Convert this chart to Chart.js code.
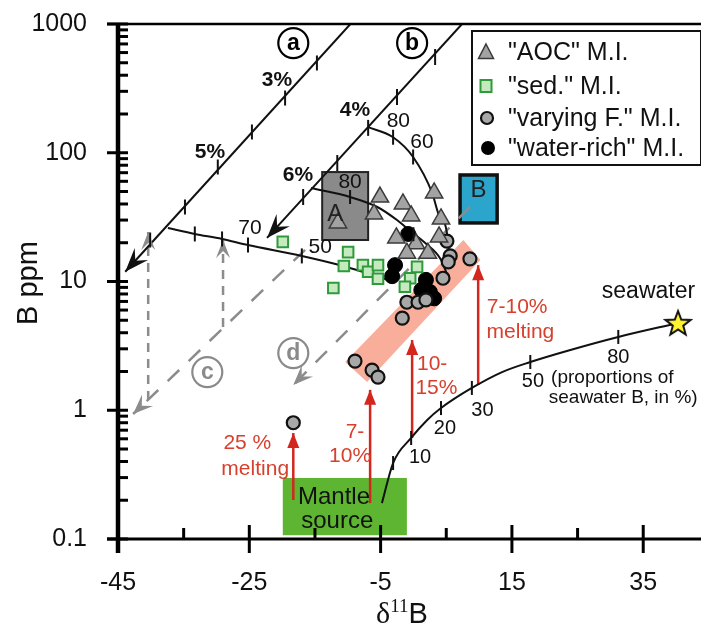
<!DOCTYPE html>
<html><head><meta charset="utf-8">
<script src="https://cdn.jsdelivr.net/npm/chart.js@4.4.1/dist/chart.umd.min.js"></script>
<style>html,body{margin:0;padding:0;background:#fff;overflow:hidden}#wrap{width:701px;height:627px;position:relative}</style>
</head><body><div id="wrap"><canvas id="c" width="701" height="627"></canvas></div>
<script>
// ---------- data ----------
const xTickValues = [-45, -25, -5, 15, 35];
const xMinorTickValues = [-35, -15, 5, 25];
const yTickValues = [0.1, 1, 10, 100, 1000];

const aocMI = [
  {x:-11.5,y:28.5},{x:-5.1,y:45.3},{x:-6.0,y:33.4},{x:-1.6,y:40.0},{x:-0.35,y:32.3},
  {x:3.15,y:48.7},{x:4.2,y:30.6},{x:-2.6,y:21.8},{x:0.4,y:19.6},{x:-1.0,y:16.6},
  {x:2.2,y:16.6},{x:3.9,y:22.2}
];
const sedMI = [
  {x:-19.9,y:20.3},{x:-9.95,y:16.9},{x:-10.6,y:13.2},{x:-12.2,y:8.9},{x:-7.7,y:13.4},
  {x:-6.9,y:11.9},{x:-5.4,y:13.4},{x:-5.4,y:10.5},{x:0.55,y:13.0},{x:-0.5,y:10.6},{x:-1.3,y:9.1}
];
const varyingF = [
  {x:5.1,y:20.6},{x:5.6,y:15.8},{x:5.3,y:14.2},{x:8.6,y:15.0},{x:4.5,y:10.6},
  {x:-1.0,y:6.9},{x:0.7,y:6.9},{x:1.9,y:7.2},{x:-1.7,y:5.2},
  {x:-8.9,y:2.41},{x:-6.3,y:2.05},{x:-5.4,y:1.81},{x:-18.3,y:0.80}
];
const waterRich = [
  {x:-0.8,y:23.4},{x:-2.8,y:13.4},{x:-3.25,y:11.0},{x:1.9,y:10.3},{x:1.2,y:8.6},{x:2.5,y:8.3},{x:3.15,y:7.4}
];
const seawater = [{x:40.3,y:4.76}];

const lineA = [{x:-9.6,y:1000},{x:-43.9,y:11.9}];
const lineATicks = [{x:-14.7,y:498},{x:-19.55,y:266},{x:-24.6,y:145},{x:-29.8,y:77.5},{x:-34.8,y:37.9},{x:-40.1,y:21.0}];
const lineB = [{x:7.4,y:1000},{x:-22.3,y:21.8}];
const lineBTicks = [{x:3.3,y:554},{x:-2.5,y:271},{x:-6.9,y:156},{x:-11.6,y:83.2},{x:-16.8,y:45.3}];
const curve4pct = [{x:-6.9,y:158},{x:-3.1,y:132},{x:-0.05,y:92.7},{x:2.85,y:48.7},{x:3.76,y:34.0},{x:5.1,y:23.8},{x:5.6,y:13.0}];
const curve4Ticks = [{x:-3.1,y:132},{x:-0.05,y:92.7}];
const curve6pct = [{x:-15.6,y:53.2},{x:-9.65,y:45.3},{x:-5.5,y:37.9},{x:-2.5,y:30.0},{x:-0.5,y:24.7},{x:1.8,y:19.9},{x:4.1,y:15.0},{x:5.3,y:10.8}];
const curve6Ticks = [{x:-9.65,y:45.3},{x:0.0,y:23.3}];
const curveFromA = [{x:-37.4,y:26.0},{x:-33.3,y:23.4},{x:-29.15,y:21.4},{x:-25.2,y:19.2},{x:-17.0,y:15.8},{x:-10.7,y:13.2},{x:-6.6,y:11.4},{x:-2.8,y:9.9}];
const curveFromATicks = [{x:-33.3,y:23.4},{x:-29.15,y:21.4},{x:-25.2,y:19.2},{x:-17.0,y:15.8}];
const mixingCurve = [{x:-4.8,y:0.190},{x:-3.1,y:0.389},{x:-0.35,y:0.609},{x:2.1,y:0.84},{x:4.2,y:1.04},{x:8.9,y:1.49},{x:13.5,y:1.98},{x:17.8,y:2.37},{x:23.9,y:2.94},{x:31.2,y:3.71},{x:40.3,y:4.76}];
const mixingTicks = [{x:-3.1,y:0.389},{x:-0.35,y:0.609},{x:4.2,y:1.04},{x:8.9,y:1.49},{x:17.8,y:2.37},{x:31.2,y:3.71}];

const dashC = [{x:-16.5,y:17.6},{x:-42.7,y:0.935}];
const dashD = [{x:8.6,y:37.9},{x:-18.3,y:1.57}];
const dashV1 = [{x:-40.4,y:1.20},{x:-40.4,y:24.2}];
const dashV2 = [{x:-29.0,y:4.43},{x:-29.0,y:21.0}];
const melt25 = [{x:-18.3,y:0.201},{x:-18.3,y:0.665}];
const melt7a = [{x:-6.6,y:0.190},{x:-6.6,y:1.44}];
const melt10 = [{x:-0.2,y:0.609},{x:-0.2,y:3.51}];
const melt7b = [{x:9.86,y:1.57},{x:9.86,y:13.4}];

const boxA = [{x:-13.9,y:70.8},{x:-6.9,y:21.0}];
const boxB = [{x:7.1,y:67.2},{x:12.75,y:28.5}];
const mantleBox = [{x:-19.9,y:0.298},{x:-1.0,y:0.107}];
const meltBand = [{x:-10.4,y:2.37},{x:-7.05,y:1.66},{x:10.2,y:14.7},{x:7.6,y:21.0}];

const seriesLabels = ['"AOC" M.I.', '"sed." M.I.', '"varying F." M.I.', '"water-rich" M.I.'];

const textLabels = [
  {t:'3%',x:-20.8,y:367,k:'pct'},{t:'5%',x:-31.0,y:101,k:'pct'},{t:'4%',x:-8.9,y:215,k:'pct'},{t:'6%',x:-17.6,y:67.2,k:'pct'},
  {t:'80',x:-2.3,y:176,k:'num'},{t:'60',x:1.3,y:121,k:'num'},{t:'80',x:-9.65,y:59.3,k:'num'},{t:'70',x:-24.9,y:26.0,k:'num'},{t:'50',x:-14.2,y:18.5,k:'num'},
  {t:'A',x:-11.9,y:33.4,k:'box'},{t:'B',x:9.9,y:51.4,k:'box'},
  {t:'25 %',x:-25.3,y:0.557,k:'red'},{t:'melting',x:-24.1,y:0.350,k:'red'},
  {t:'7-',x:-8.9,y:0.678,k:'red'},{t:'10%',x:-9.65,y:0.441,k:'red'},
  {t:'10-',x:2.85,y:2.29,k:'red'},{t:'15%',x:3.5,y:1.49,k:'red'},
  {t:'7-10%',x:15.8,y:6.34,k:'red'},{t:'melting',x:16.3,y:4.05,k:'red'},
  {t:'Mantle',x:-12.1,y:0.212,k:'mantle'},{t:'source',x:-11.6,y:0.138,k:'mantle'},
  {t:'10',x:1.0,y:0.426,k:'mix'},{t:'20',x:4.8,y:0.728,k:'mix'},{t:'30',x:10.5,y:1.0,k:'mix'},{t:'50',x:18.2,y:1.66,k:'mix'},{t:'80',x:31.2,y:2.55,k:'mix'},
  {t:'(proportions of',x:30.3,y:1.78,k:'note'},{t:'seawater B, in %)',x:31.95,y:1.245,k:'note'},
  {t:'seawater',x:35.8,y:8.28,k:'sea'}
];
const circleLabels = [
  {t:'a',x:-18.3,y:711,c:'#000'},{t:'b',x:-0.2,y:711,c:'#000'},
  {t:'c',x:-31.4,y:1.98,c:'#8a8a8a'},{t:'d',x:-18.3,y:2.78,c:'#8a8a8a'}
];

// ---------- styles ----------
const SANS = '"Liberation Sans", Arial, sans-serif';
const SERIF = '"Liberation Serif", "Times New Roman", serif';
const RED = '#d3261c';
const REDTXT = '#d6402c';
const GRAYD = '#8c8c8c';
const labelStyles = {
  pct:{font:'bold 21px '+SANS,color:'#111'},
  num:{font:'21px '+SANS,color:'#111'},
  box:{font:'24px '+SANS,color:'#222'},
  red:{font:'21px '+SANS,color:REDTXT},
  mantle:{font:'24px '+SANS,color:'#111'},
  mix:{font:'20px '+SANS,color:'#111'},
  note:{font:'19px '+SANS,color:'#111'},
  sea:{font:'23px '+SANS,color:'#111'}
};

// star image for seawater point
const starImg = document.createElement('canvas');
starImg.width = 30; starImg.height = 30;
(function(){
  const c = starImg.getContext('2d');
  c.beginPath();
  for (let i = 0; i < 10; i++) {
    const r = i % 2 === 0 ? 13 : 5.5;
    const a = -Math.PI/2 + i*Math.PI/5;
    const px = 15 + r*Math.cos(a), py = 16 + r*Math.sin(a);
    if (i === 0) c.moveTo(px, py); else c.lineTo(px, py);
  }
  c.closePath();
  c.fillStyle = '#fff22e'; c.fill();
  c.lineWidth = 2; c.strokeStyle = '#111'; c.stroke();
})();

function lineDs(data, opts) {
  return Object.assign({data, showLine:true, pointRadius:0, borderColor:'#111', borderWidth:2, fill:false, tension:0}, opts||{});
}

const datasets = [
  {label:seriesLabels[0], data:aocMI, pointStyle:'triangle', pointRadius:10, backgroundColor:'#a3a3a3', borderColor:'#3a3a3a', borderWidth:1.5},
  {label:seriesLabels[1], data:sedMI, pointStyle:'rect', pointRadius:7.5, backgroundColor:'#c6eac0', borderColor:'#2e9a3a', borderWidth:2},
  {label:seriesLabels[2], data:varyingF, pointStyle:'circle', pointRadius:6.5, backgroundColor:'#a8a8a8', borderColor:'#111', borderWidth:2.2},
  {label:seriesLabels[3], data:waterRich, pointStyle:'circle', pointRadius:7.5, backgroundColor:'#000', borderColor:'#000', borderWidth:1},
  {label:'seawater', data:seawater, pointStyle:starImg, pointRadius:13},
  lineDs(lineA, {arrow:{len:24,half:9,notch:15}}),
  lineDs(lineB, {arrow:{len:24,half:9,notch:15}}),
  lineDs(curve4pct, {cubicInterpolationMode:'monotone'}),
  lineDs(curve6pct, {cubicInterpolationMode:'monotone'}),
  lineDs(curveFromA, {cubicInterpolationMode:'monotone'}),
  lineDs(mixingCurve, {cubicInterpolationMode:'monotone'}),
  lineDs(dashC, {borderColor:GRAYD, borderWidth:2.5, borderDash:[16,13], arrow:{len:20,half:8,notch:12}}),
  lineDs(dashD, {borderColor:GRAYD, borderWidth:2.5, borderDash:[16,13], arrow:{len:20,half:8,notch:12}}),
  lineDs(dashV1, {borderColor:GRAYD, borderWidth:2.5, borderDash:[9,7], arrow:{len:18,half:7,notch:11}}),
  lineDs(dashV2, {borderColor:GRAYD, borderWidth:2.5, borderDash:[9,7], arrow:{len:18,half:7,notch:11}}),
  lineDs(melt25, {borderColor:RED, borderWidth:2.5, arrow:{len:15,half:6,notch:15}}),
  lineDs(melt7a, {borderColor:RED, borderWidth:2.5, arrow:{len:15,half:6,notch:15}}),
  lineDs(melt10, {borderColor:RED, borderWidth:2.5, arrow:{len:15,half:6,notch:15}}),
  lineDs(melt7b, {borderColor:RED, borderWidth:2.5, arrow:{len:15,half:6,notch:15}})
];

function px(chart, p) {
  return {x: chart.scales.x.getPixelForValue(p.x), y: chart.scales.y.getPixelForValue(p.y)};
}
function arrowHead(ctx, from, to, a, color) {
  const ang = Math.atan2(to.y-from.y, to.x-from.x);
  ctx.save(); ctx.translate(to.x, to.y); ctx.rotate(ang);
  ctx.beginPath(); ctx.moveTo(0,0); ctx.lineTo(-a.len,-a.half); ctx.lineTo(-a.notch,0); ctx.lineTo(-a.len,a.half); ctx.closePath();
  ctx.fillStyle = color; ctx.fill(); ctx.restore();
}

const backPlugin = {
  id:'back',
  beforeDatasetsDraw(chart) {
    const ctx = chart.ctx;
    ctx.save();
    ctx.beginPath();
    meltBand.forEach((p,i)=>{const q=px(chart,p); if(i===0) ctx.moveTo(q.x,q.y); else ctx.lineTo(q.x,q.y);});
    ctx.closePath(); ctx.fillStyle='#f8ae9a'; ctx.fill();
    let a=px(chart,mantleBox[0]), b=px(chart,mantleBox[1]);
    ctx.fillStyle='#5db532'; ctx.fillRect(a.x,a.y,b.x-a.x,b.y-a.y);
    a=px(chart,boxA[0]); b=px(chart,boxA[1]);
    ctx.fillStyle='#8a8a8a'; ctx.fillRect(a.x,a.y,b.x-a.x,b.y-a.y);
    ctx.lineWidth=2; ctx.strokeStyle='#222'; ctx.strokeRect(a.x,a.y,b.x-a.x,b.y-a.y);
    a=px(chart,boxB[0]); b=px(chart,boxB[1]);
    ctx.fillStyle='#2ba5cc'; ctx.fillRect(a.x,a.y,b.x-a.x,b.y-a.y);
    ctx.lineWidth=3.5; ctx.strokeStyle='#111'; ctx.strokeRect(a.x,a.y,b.x-a.x,b.y-a.y);
    ctx.restore();
  },
  afterDatasetsDraw(chart) {
    const ctx = chart.ctx;
    ctx.save();
    chart.data.datasets.forEach((ds,i)=>{
      if (!ds.arrow) return;
      const pts = chart.getDatasetMeta(i).data;
      const n = pts.length;
      arrowHead(ctx, {x:pts[n-2].x,y:pts[n-2].y}, {x:pts[n-1].x,y:pts[n-1].y}, ds.arrow, ds.borderColor);
    });
    ctx.strokeStyle='#111'; ctx.lineWidth=2;
    [[lineATicks,7.5],[lineBTicks,8],[curve4Ticks,7.5],[curve6Ticks,7],[curveFromATicks,7.5],[mixingTicks,7]].forEach(([arr,h])=>{
      arr.forEach(p=>{const q=px(chart,p); ctx.beginPath(); ctx.moveTo(q.x,q.y-h); ctx.lineTo(q.x,q.y+h); ctx.stroke();});
    });
    ctx.textAlign='center'; ctx.textBaseline='middle';
    textLabels.forEach(l=>{
      const s=labelStyles[l.k]; const q=px(chart,l);
      ctx.font=s.font; ctx.fillStyle=s.color; ctx.fillText(l.t,q.x,q.y);
    });
    circleLabels.forEach(l=>{
      const q=px(chart,l);
      ctx.beginPath(); ctx.arc(q.x,q.y,15,0,Math.PI*2);
      ctx.lineWidth=2.2; ctx.strokeStyle=l.c; ctx.fillStyle='#fff'; ctx.fill(); ctx.stroke();
      ctx.font='bold 23px '+SANS; ctx.fillStyle=l.c; ctx.fillText(l.t,q.x,q.y+1);
    });
    ctx.restore();
  },
  afterDraw(chart) {
    const ctx = chart.ctx, xs = chart.scales.x, ys = chart.scales.y, area = chart.chartArea;
    ctx.save();
    ctx.strokeStyle='#000'; ctx.lineCap='butt';
    ctx.lineWidth=2.5; ctx.beginPath(); ctx.moveTo(area.left-11,area.top); ctx.lineTo(701,area.top); ctx.stroke();
    ctx.lineWidth=3; ctx.beginPath(); ctx.moveTo(area.left-11,area.bottom); ctx.lineTo(701,area.bottom); ctx.stroke();
    ctx.lineWidth=4.5; ctx.beginPath(); ctx.moveTo(area.left,area.top-1); ctx.lineTo(area.left,area.bottom+14); ctx.stroke();
    ctx.lineWidth=3;
    for (let e=-1; e<=3; e++) {
      const yM = ys.getPixelForValue(Math.pow(10,e));
      ctx.beginPath(); ctx.moveTo(area.left-11,yM); ctx.lineTo(area.left+10,yM); ctx.stroke();
      if (e<3) for (let m=2; m<=9; m++) {
        const y = ys.getPixelForValue(m*Math.pow(10,e));
        ctx.beginPath(); ctx.moveTo(area.left,y); ctx.lineTo(area.left+10,y); ctx.stroke();
      }
    }
    xTickValues.forEach(v=>{const x=xs.getPixelForValue(v); ctx.beginPath(); ctx.moveTo(x,area.bottom-14); ctx.lineTo(x,area.bottom+14); ctx.stroke();});
    xMinorTickValues.forEach(v=>{const x=xs.getPixelForValue(v); ctx.beginPath(); ctx.moveTo(x,area.bottom-11); ctx.lineTo(x,area.bottom); ctx.stroke();});
    ctx.fillStyle='#111';
    ctx.save(); ctx.translate(29, 283); ctx.rotate(-Math.PI/2);
    ctx.font='29px '+SANS; ctx.textAlign='center'; ctx.textBaseline='middle'; ctx.fillText('B ppm',0,0); ctx.restore();
    ctx.textBaseline='alphabetic'; ctx.textAlign='left';
    const f1='30px '+SERIF, f2='19px '+SERIF, f3='29px '+SANS;
    ctx.font=f1; const w1=ctx.measureText('δ').width;
    ctx.font=f2; const w2=ctx.measureText('11').width;
    ctx.font=f3; const w3=ctx.measureText('B').width;
    let x0 = 402 - (w1+w2+w3)/2, yb = 623;
    ctx.font=f1; ctx.fillText('δ',x0,yb); x0+=w1;
    ctx.font=f2; ctx.fillText('11',x0,yb-11); x0+=w2;
    ctx.font=f3; ctx.fillText('B',x0,yb);
    const L={x:472,y:31,w:229,h:134};
    ctx.fillStyle='#fff'; ctx.fillRect(L.x,L.y,L.w,L.h);
    ctx.lineWidth=2; ctx.strokeStyle='#111'; ctx.strokeRect(L.x,L.y,L.w,L.h);
    const rows=[52,86,118,148];
    ctx.font='25px '+SANS; ctx.textBaseline='middle'; ctx.textAlign='left';
    rows.forEach((ry,i)=>{
      const ds=chart.data.datasets[i];
      const mx=486;
      ctx.save();
      ctx.fillStyle=ds.backgroundColor; ctx.strokeStyle=ds.borderColor; ctx.lineWidth=ds.borderWidth;
      if (i===0){ctx.beginPath(); ctx.moveTo(mx,ry-8); ctx.lineTo(mx+7.5,ry+6.5); ctx.lineTo(mx-7.5,ry+6.5); ctx.closePath(); ctx.fill(); ctx.stroke();}
      else if (i===1){ctx.fillRect(mx-5.5,ry-6,11,12); ctx.strokeRect(mx-5.5,ry-6,11,12);}
      else if (i===2){ctx.beginPath(); ctx.arc(mx+1,ry,6,0,Math.PI*2); ctx.fill(); ctx.stroke();}
      else {ctx.beginPath(); ctx.arc(mx+2,ry,7,0,Math.PI*2); ctx.fill();}
      ctx.restore();
      ctx.fillStyle='#111'; ctx.fillText(ds.label, 508, ry+1);
    });
    ctx.restore();
  }
};

function zeroPad(s){ s.paddingLeft=0; s.paddingRight=0; s.paddingTop=0; s.paddingBottom=0; }

new Chart(document.getElementById('c'), {
  type:'scatter',
  data:{datasets},
  options:{
    responsive:false, animation:false, events:[], devicePixelRatio:1,
    layout:{autoPadding:false, padding:{top:24,right:0,bottom:0,left:0}},
    plugins:{legend:{display:false}, tooltip:{enabled:false}},
    scales:{
      x:{type:'linear', min:-45, max:43.8,
        grid:{display:false}, border:{display:false},
        afterBuildTicks:s=>{s.ticks=xTickValues.map(v=>({value:v}));},
        afterFit:s=>{s.height=88; zeroPad(s);},
        ticks:{font:{family:SANS,size:25}, color:'#111', padding:21, maxRotation:0, autoSkip:false}
      },
      y:{type:'logarithmic', min:0.1, max:1000,
        grid:{display:false}, border:{display:false},
        afterBuildTicks:s=>{s.ticks=yTickValues.map(v=>({value:v}));},
        afterFit:s=>{s.width=118; zeroPad(s);},
        ticks:{font:{family:SANS,size:25}, color:'#111', padding:23, autoSkip:false, callback:v=>String(v)}
      }
    }
  },
  plugins:[backPlugin]
});
</script>
</body></html>
